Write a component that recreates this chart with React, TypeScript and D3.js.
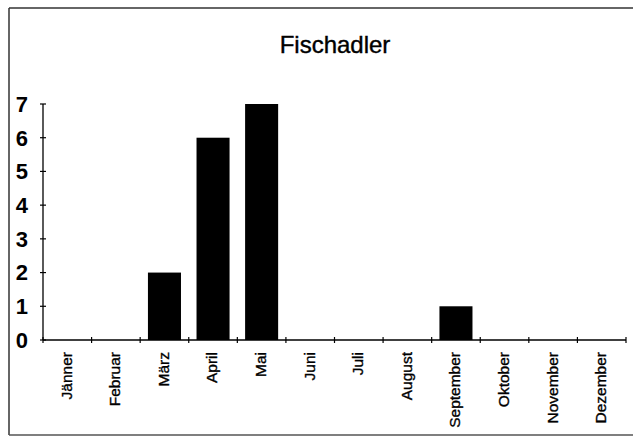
import React from "react";
import * as d3 from "d3";

const title = "Fischadler";
const months = ["Jänner","Februar","März","April","Mai","Juni","Juli","August","September","Oktober","November","Dezember"];
const values = [0,0,2,6,7,0,0,0,1,0,0,0];
const yTicks = [0,1,2,3,4,5,6,7];

export default function App() {
  const W = 633, H = 437;
  const x0 = 43, x1 = 626, yBottom = 340, yTop = 104;
  const x = d3.scaleBand<string>().domain(months).range([x0, x1]).paddingInner(0.32).paddingOuter(0.16);
  const y = d3.scaleLinear().domain([0, 7]).range([yBottom, yTop]);
  const step = x.step();
  const boundaries = d3.range(months.length + 1).map(i => x0 + i * step);
  return (
    <svg width={W} height={H} style={{position:"absolute", left:0, top:0, background:"#fff"}}
      fontFamily="Arial, 'Liberation Sans', sans-serif">
      <rect x={0} y={0} width={W} height={H} fill="#fff" />
      {/* frame */}
      <line x1={9} y1={8} x2={W} y2={8} stroke="#333" strokeWidth={1.5} />
      <line x1={9} y1={8} x2={9} y2={435} stroke="#333" strokeWidth={1.5} />
      <line x1={9} y1={435} x2={W} y2={435} stroke="#555" strokeWidth={1.5} />
      <text x={335} y={53} textAnchor="middle" fontSize={24} fill="#000" stroke="#000" strokeWidth={0.4}>{title}</text>
      {/* bars */}
      {months.map((m, i) => values[i] > 0 ? (
        <rect key={m} x={x(m)} y={y(values[i])} width={x.bandwidth()} height={y(0) - y(values[i])} fill="#000" />
      ) : null)}
      {/* y axis */}
      <line x1={x0} y1={yTop} x2={x0} y2={yBottom} stroke="#000" strokeWidth={1.3} />
      {yTicks.map(t => (
        <g key={t}>
          <line x1={x0 - 3} x2={x0 + 3} y1={y(t)} y2={y(t)} stroke="#000" strokeWidth={1.2} />
          <text x={28} y={y(t)} dy="0.36em" textAnchor="end" fontSize={22} fontWeight="bold" fill="#000">{t}</text>
        </g>
      ))}
      {/* x axis */}
      <line x1={x0} y1={yBottom} x2={x1} y2={yBottom} stroke="#000" strokeWidth={1.3} />
      {boundaries.map((b, i) => (
        <line key={i} x1={b} x2={b} y1={yBottom - 3} y2={yBottom + 3} stroke="#000" strokeWidth={1.2} />
      ))}
      {months.map(m => {
        const cx = (x(m) as number) + x.bandwidth() / 2;
        return (
          <text key={m} transform={`translate(${cx - 1},352) rotate(-90)`} dy="0.35em" textAnchor="end" fontSize={15.5} fill="#000" stroke="#000" strokeWidth={0.35}>{m}</text>
        );
      })}
    </svg>
  );
}
